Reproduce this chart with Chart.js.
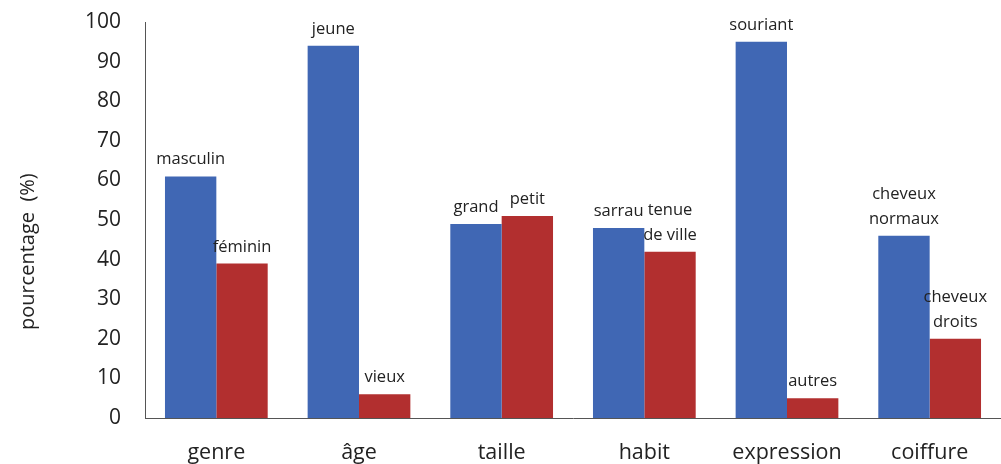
<!DOCTYPE html>
<html><head><meta charset="utf-8">
<script src="https://cdn.jsdelivr.net/npm/chart.js@4/dist/chart.umd.min.js"></script>
<style>html,body{margin:0;padding:0;background:#fff}#wrap{width:1001px;height:464px;position:relative}</style>
</head><body><div id="wrap"><canvas id="c"></canvas></div>
<script>
const categories = ["genre", "âge", "taille", "habit", "expression", "coiffure"];
const blueValues = [61, 94, 49, 48, 95, 46];
const redValues = [39, 6, 51, 42, 5, 20];
const blueLabels = [["masculin"], ["jeune"], ["grand"], ["sarrau"], ["souriant"], ["cheveux", "normaux"]];
const redLabels = [["féminin"], ["vieux"], ["petit"], ["tenue", "de ville"], ["autres"], ["cheveux", "droits"]];
const yTicks = [0, 10, 20, 30, 40, 50, 60, 70, 80, 90, 100];
const yTitle = "pourcentage  (%)";

const FONT = "'Open Sans', 'Noto Sans', sans-serif";

const barLabelPlugin = {
  id: 'barLabels',
  afterDatasetsDraw(chart) {
    const ctx = chart.ctx;
    ctx.save();
    ctx.font = "16.5px " + FONT;
    ctx.fillStyle = "#222";
    ctx.textAlign = "center";
    ctx.textBaseline = "alphabetic";
    chart.data.datasets.forEach((ds, di) => {
      const meta = chart.getDatasetMeta(di);
      meta.data.forEach((bar, i) => {
        const lines = ds.barLabels[i];
        const lh = 25;
        const baseY = bar.y - 12;
        lines.forEach((t, li) => {
          const y = baseY - (lines.length - 1 - li) * lh;
          ctx.fillText(t, bar.x, y);
        });
      });
    });
    // y axis title
    ctx.font = "20px " + FONT;
    ctx.textAlign = "center";
    ctx.textBaseline = "middle";
    ctx.translate(28, chart.chartArea.top + (chart.chartArea.bottom - chart.chartArea.top) * 0.58);
    ctx.rotate(-Math.PI / 2);
    ctx.fillText(yTitle, 0, 0);
    ctx.restore();
  }
};

new Chart(document.getElementById('c'), {
  type: 'bar',
  data: {
    labels: categories,
    datasets: [
      { label: 'a', data: blueValues, backgroundColor: '#4067B4', barLabels: blueLabels, barPercentage: 1.0, categoryPercentage: 0.72 },
      { label: 'b', data: redValues, backgroundColor: '#B22F2F', barLabels: redLabels, barPercentage: 1.0, categoryPercentage: 0.72 }
    ]
  },
  options: {
    responsive: true,
    maintainAspectRatio: false,
    animation: false,
    layout: { padding: { top: 22, right: 0, left: 0, bottom: 0 } },
    plugins: { legend: { display: false }, tooltip: { enabled: false } },
    scales: {
      x: {
        grid: { display: false, drawTicks: false },
        border: { display: true, color: '#555', width: 1 },
        ticks: { color: '#222', font: { family: FONT, size: 21.5 }, padding: 22 },
        afterFit(s) { s.height = 46; }
      },
      y: {
        min: 0, max: 100,
        afterBuildTicks(s) { s.ticks = yTicks.map(v => ({ value: v })); },
        grid: { display: false, drawTicks: false },
        border: { display: true, color: '#555', width: 1 },
        ticks: { color: '#222', font: { family: FONT, size: 21 }, padding: 24 },
        afterFit(s) { s.width = 145; s.paddingTop = 0; s.paddingBottom = 0; }
      }
    }
  },
  plugins: [barLabelPlugin]
});
</script>
</body></html>
